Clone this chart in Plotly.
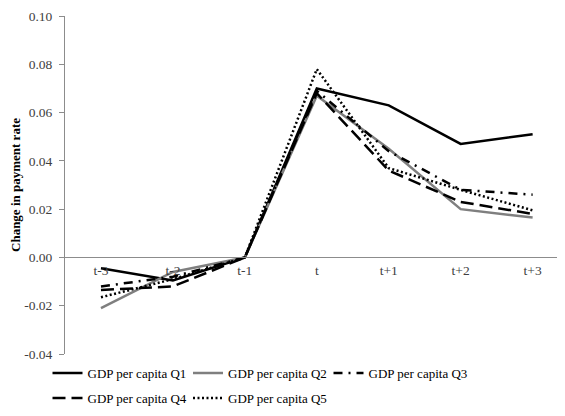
import plotly.graph_objects as go

categories = ["t-3", "t-2", "t-1", "t", "t+1", "t+2", "t+3"]
series_names = ["GDP per capita Q1", "GDP per capita Q2", "GDP per capita Q3",
                "GDP per capita Q4", "GDP per capita Q5"]
q1 = [-0.0045, -0.0095, 0.0, 0.070, 0.063, 0.047, 0.051]
q2 = [-0.021, -0.006, 0.0, 0.067, 0.045, 0.020, 0.0165]
q3 = [-0.012, -0.008, 0.0, 0.069, 0.044, 0.028, 0.026]
q4 = [-0.0135, -0.012, 0.0, 0.068, 0.036, 0.023, 0.018]
q5 = [-0.0165, -0.009, 0.0, 0.078, 0.037, 0.028, 0.0195]
y_ticks = [-0.04, -0.02, 0.0, 0.02, 0.04, 0.06, 0.08, 0.10]
y_ticktext = ["-0.04", "-0.02", "0.00", "0.02", "0.04", "0.06", "0.08", "0.10"]

values = [q1, q2, q3, q4, q5]
styles = [
    dict(color="#000000", dash="solid"),
    dict(color="#7f7f7f", dash="solid"),
    dict(color="#000000", dash="9px,6px,2px,6px"),
    dict(color="#000000", dash="13px,6px"),
    dict(color="#000000", dash="2px,2.5px"),
]
legend_of = ["legend", "legend", "legend", "legend2", "legend2"]

FONT = "Liberation Serif"
AX = "#8c8c8c"
TXT = "#404040"

fig = go.Figure()
for name, vals, st, lg in zip(series_names, values, styles, legend_of):
    fig.add_trace(go.Scatter(
        x=categories, y=vals, name=name, mode="lines", legend=lg,
        line=dict(color=st["color"], dash=st["dash"], width=2.5),
    ))

y_min, y_max = -0.04, 0.10
leg_common = dict(
    orientation="h", xanchor="left", yanchor="middle",
    font=dict(family=FONT, size=13, color="#000000"),
    itemwidth=30, entrywidth=95.5, entrywidthmode="pixels",
    bgcolor="rgba(0,0,0,0)",
)
fig.update_layout(
    width=557, height=408,
    margin=dict(l=57, r=0, t=8, b=62, autoexpand=False),
    paper_bgcolor="white", plot_bgcolor="white",
    font=dict(family=FONT, size=13, color=TXT),
    showlegend=True,
    legend=dict(x=-0.035, y=-0.056, **leg_common),
    legend2=dict(x=-0.035, y=-0.130, **leg_common),
    xaxis=dict(
        type="category", range=[-0.5, 6.45],
        anchor="free", position=(0 - y_min) / (y_max - y_min),
        showline=True, linecolor=AX, linewidth=1,
        ticks="", showgrid=False, zeroline=False, automargin=False,
        tickfont=dict(family=FONT, size=13.5, color=TXT),
    ),
    yaxis=dict(
        range=[y_min, y_max], tickvals=y_ticks, ticktext=y_ticktext,
        showline=True, linecolor=AX, linewidth=1,
        ticks="outside", ticklen=5, tickcolor=AX,
        ticklabelstandoff=4, automargin=False,
        showgrid=False, zeroline=False,
        tickfont=dict(family=FONT, size=13.5, color=TXT),
        title=dict(text="<b>Change in payment rate</b>",
                   font=dict(family=FONT, size=13, color="#000000"), standoff=19),
    ),
)

fig.write_html("out.html")
